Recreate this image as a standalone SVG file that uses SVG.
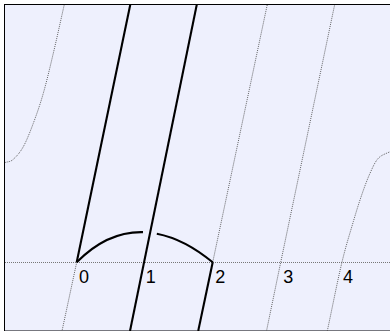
<svg xmlns="http://www.w3.org/2000/svg" width="390" height="331" viewBox="0 0 390 331">
  <style>
    .dot { fill: none; stroke: #555; stroke-width: 0.9; stroke-dasharray: 1 1; }
    .axis { fill: none; stroke: #777; stroke-width: 1; stroke-dasharray: 1 1; }
    .thick { fill: none; stroke: #000; stroke-width: 2.1; stroke-linecap: butt; }
    .lbl { font-family: "Liberation Sans", Arial, sans-serif; font-size: 18px; fill: #000; }
  </style>
  <defs>
    <clipPath id="frameClip">
      <rect x="5" y="5" width="390" height="330"/>
    </clipPath>
  </defs>
  <rect x="0" y="0" width="390" height="331" fill="#ffffff"/>
  <rect id="frame" x="4.5" y="4.5" width="400" height="326.5" fill="#eef0fd" stroke="#000" stroke-width="1"/>
  <g id="guides" clip-path="url(#frameClip)">
    <line class="axis" x1="5" y1="262.5" x2="390" y2="262.5"/>
    <path class="dot" d="M66.5,-5 L64.3,4.5 C62.1,14.22 56.8,38.5 53.3,53.3 C49.8,68.1 46.63,81.63 43.3,93.3 C39.97,104.97 36.63,114.4 33.3,123.3 C29.97,132.2 26.63,140.7 23.3,146.7 C19.97,152.7 16.18,156.7 13.3,159.3 C10.42,161.9 8.88,161.52 6,162.3 L-4,164"/>
    <line class="dot" x1="76.7" y1="262.3" x2="62" y2="331"/>
    <line class="dot" x1="212.7" y1="262.3" x2="267.3" y2="4.5"/>
    <path class="dot" d="M334.7,4.5 L280.7,262.3 L266.5,331"/>
    <path class="dot" d="M327.3,331 C332.1,308.4 337.37,281.5 341.7,263.3 C346.03,245.1 349.970,233.1 353.3,221.7 C356.63,210.3 358.92,203.07 361.7,195 C364.48,186.93 367.23,179.42 370,173.3 C372.77,167.18 374.97,161.9 378.3,158.3 C381.63,154.7 386.38,153.58 390,151.7 L400,147"/>
  </g>
  <g id="curves" clip-path="url(#frameClip)">
    <line class="thick" x1="76.7" y1="262.3" x2="130.3" y2="4.5"/>
    <line class="thick" x1="130" y1="331" x2="196.8" y2="4.5"/>
    <line class="thick" x1="212.7" y1="262.3" x2="198.2" y2="331"/>
    <path class="thick" d="M76.7,262.3 C97.7,241 120.03,231.6 142.98,232.15"/>
    <path class="thick" d="M156.81,233.66 C175.35,237.23 194.2,246.96 212.7,262.3"/>
  </g>
  <g id="labels">
    <text class="lbl" x="79" y="282.8">0</text>
    <text class="lbl" x="145.8" y="282.8">1</text>
    <text class="lbl" x="215.2" y="282.8">2</text>
    <text class="lbl" x="283.2" y="282.8">3</text>
    <text class="lbl" x="343" y="282.8">4</text>
  </g>
</svg>
